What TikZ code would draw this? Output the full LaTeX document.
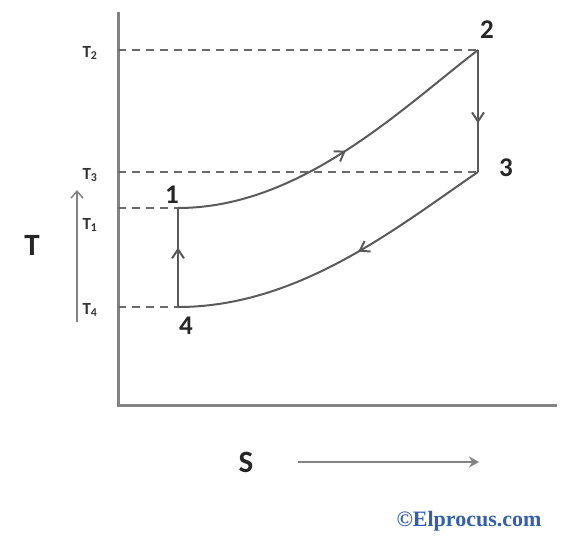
\documentclass[tikz,border=0pt]{standalone}
\usepackage{fontspec}
\setmainfont{Carlito}
\newfontfamily\wmfont{Liberation Serif}
\usetikzlibrary{arrows.meta,decorations.markings}
\definecolor{ln}{RGB}{90,90,90}
\definecolor{wm}{RGB}{50,95,175}
\tikzset{
  axisline/.style={draw=ln!75, line width=3pt},
  curveline/.style={draw=ln, line width=2pt},
  levelline/.style={draw=ln!90, line width=1.6pt, dash pattern=on 8pt off 6pt},
  lbl/.style={font=\fontsize{27}{27}\selectfont\bfseries, text=black!85, inner sep=0pt},
  tlbl/.style={font=\fontsize{17}{17}\selectfont\bfseries, text=black!80, inner sep=0pt},
  midarrow/.style={postaction={decorate}, decoration={markings,
     mark=at position #1 with {\arrow{Straight Barb[length=9pt,width=12pt,line width=2pt]}}}},
}
\begin{document}
\begin{tikzpicture}[x=1pt,y=-1pt]
\useasboundingbox (0,0) rectangle (562,538);
% axes
\coordinate (top) at (118,12);
\coordinate (org) at (118,405);
\coordinate (xend) at (557,405);
\draw[axisline] (top) -- (org) -- (xend);
% state points
\coordinate (p1) at (178,208);
\coordinate (p2) at (478,50);
\coordinate (p3) at (478,172);
\coordinate (p4) at (178,307);
% level lines
\coordinate (a2) at (118,50);
\coordinate (a3) at (118,172);
\coordinate (a1) at (118,208);
\coordinate (a4) at (118,307);
\draw[levelline] (a2) -- (p2);
\draw[levelline] (a3) -- (p3);
\draw[levelline] (a1) -- (p1);
\draw[levelline] (a4) -- (p4);
% cycle
\draw[curveline, midarrow=0.52] (p1) .. controls (300,208) and (400,110) .. (p2);
\draw[curveline, midarrow=0.43] (p3) .. controls (400,225) and (300,307) .. (p4);
\draw[curveline, midarrow=0.6] (p2) -- (p3);
\draw[curveline, midarrow=0.6] (p4) -- (p1);
% point labels
\node[lbl] (n1) at (172,195) {1};
\node[lbl] (n2) at (487,30) {2};
\node[lbl] (n3) at (506,168) {3};
\node[lbl] (n4) at (186,326) {4};
% T labels
\node[tlbl] (t2) at (90,53) {T\textsubscript{2}};
\node[tlbl] (t3) at (90,175) {T\textsubscript{3}};
\node[tlbl] (t1) at (90,225) {T\textsubscript{1}};
\node[tlbl] (t4) at (90,310) {T\textsubscript{4}};
% axis titles
\node[lbl, font=\fontsize{31}{31}\selectfont\bfseries] (T) at (32,245) {T};
\coordinate (tb) at (77,322);
\coordinate (tt) at (77,190);
\draw[draw=ln!75, line width=1.5pt, -{Straight Barb[length=7pt,width=12pt,line width=1.5pt]}] (tb) -- (tt);
\node[lbl, font=\fontsize{31}{31}\selectfont\bfseries] (S) at (246,462) {S};
\coordinate (sa) at (298,462);
\coordinate (sb) at (479,462);
\draw[draw=ln!75, line width=2.6pt, -{Stealth[length=10pt,width=11pt]}] (sa) -- (sb);
% watermark
\node[font=\wmfont\fontsize{22}{22}\selectfont\bfseries, text=wm, inner sep=0pt] (wmk) at (469,521) {©Elprocus.com};
\end{tikzpicture}
\end{document}
